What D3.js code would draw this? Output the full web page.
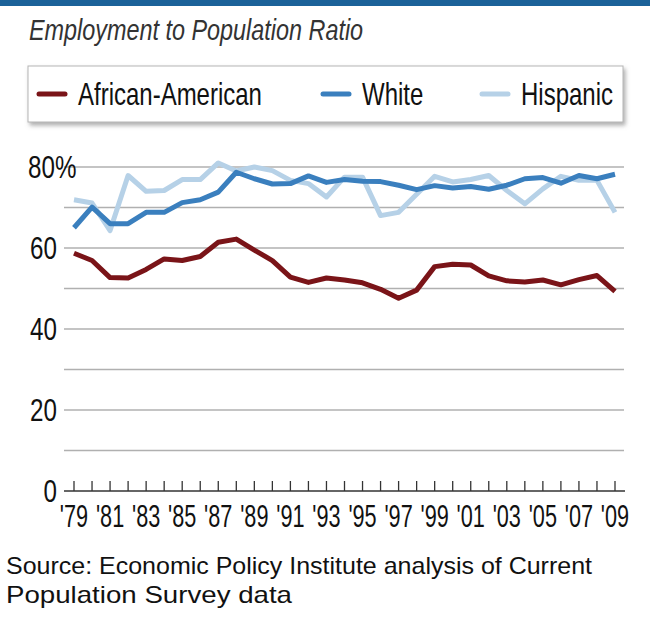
<!DOCTYPE html>
<html lang="en">

<head>
   <meta charset="utf-8">
   <script src="https://d3js.org/d3.v7.min.js"></script>
   <title>Employment to Population Ratio</title>
   <style>
      body { margin: 0; background: #fff; }
      svg { display: block; }
   </style>
</head>

<body>

   <div id="chart"></div>

   <script type="text/javascript">

      // Data
      var years = d3.range(1979, 2010);
      var africanAmerican = [58.7, 56.9, 52.7, 52.6, 54.7, 57.3, 56.9, 57.9, 61.4, 62.2,
         59.5, 56.9, 52.8, 51.5, 52.6, 52.1, 51.4, 49.8, 47.6, 49.6,
         55.4, 56.0, 55.8, 53.1, 51.9, 51.6, 52.1, 50.9, 52.2, 53.2, 49.3];
      var white = [65.0, 70.1, 66.0, 66.0, 68.8, 68.8, 71.2, 71.9, 73.8, 78.7,
         77.1, 75.8, 75.9, 77.8, 76.2, 76.9, 76.5, 76.4, 75.5, 74.4,
         75.4, 74.8, 75.2, 74.5, 75.5, 77.1, 77.4, 76.0, 77.9, 77.1, 78.2];
      var hispanic = [71.9, 71.1, 64.3, 77.9, 74.0, 74.2, 76.9, 76.9, 81.0, 79.0,
         80.0, 79.1, 76.7, 75.9, 72.6, 77.5, 77.5, 68.0, 68.8, 73.3,
         77.7, 76.3, 76.9, 77.9, 74.2, 70.9, 74.6, 77.7, 76.7, 76.7, 68.8];
      var seriesNames = ["African-American", "White", "Hispanic"];
      var gridValues = [10, 20, 30, 40, 50, 60, 70, 80];
      var yLabelValues = [0, 20, 40, 60, 80];
      var xLabelYears = d3.range(1979, 2010, 2);

      var colors = ["#7a1418", "#3a7fbe", "#b6d1e7"];
      var font = "'Liberation Sans', Arial, sans-serif";

      // Squeeze text horizontally (the original uses a condensed face):
      // move x/y into a transform and scale the glyphs on x only
      function condense(sel, factor) {
         sel.each(function () {
            var t = d3.select(this);
            var tx = +t.attr("x") || 0, ty = +t.attr("y") || 0;
            t.attr("x", 0).attr("y", 0)
               .attr("transform", "translate(" + tx + "," + ty + ") scale(" + factor + ",1)");
         });
      }

      var width = 650, height = 618;
      var svg = d3.select("#chart")
         .append("svg")
         .attr("width", width)
         .attr("height", height);

      // Scales
      var x = d3.scaleLinear().domain([1979, 2009]).range([74, 615]);
      var y = d3.scaleLinear().domain([0, 80]).range([491, 167]);

      // Top band
      svg.append("rect")
         .attr("x", 0).attr("y", 0)
         .attr("width", width).attr("height", 6)
         .attr("fill", "#1b6299");

      // Title
      svg.append("text")
         .attr("x", 29)
         .attr("y", 40)
         .style("font-family", font)
         .style("font-style", "italic")
         .style("font-size", "30px")
         .attr("fill", "#333")
         .text("Employment to Population Ratio")
         .call(condense, 0.78);

      // Legend box with shadow
      var defs = svg.append("defs");
      defs.append("filter")
         .attr("id", "shadow")
         .attr("x", "-5%").attr("y", "-20%")
         .attr("width", "110%").attr("height", "150%")
         .append("feDropShadow")
         .attr("dx", 2).attr("dy", 3)
         .attr("stdDeviation", 2)
         .attr("flood-color", "#777")
         .attr("flood-opacity", 0.6);

      svg.append("rect")
         .attr("x", 28).attr("y", 66)
         .attr("width", 595).attr("height", 56)
         .attr("fill", "#fff")
         .attr("stroke", "#b5b5b5")
         .attr("stroke-width", 1)
         .attr("filter", "url(#shadow)");

      var legendX = [37, 321, 480];
      var legend = svg.selectAll(".legend")
         .data(seriesNames)
         .enter()
         .append("g")
         .attr("class", "legend")
         .attr("transform", (d, i) => "translate(" + legendX[i] + ",0)");

      legend.append("line")
         .attr("x1", 2).attr("x2", 28)
         .attr("y1", 94).attr("y2", 94)
         .attr("stroke", (d, i) => colors[i])
         .attr("stroke-width", 5)
         .attr("stroke-linecap", "round");

      legend.append("text")
         .attr("x", 41)
         .attr("y", 105)
         .style("font-family", font)
         .style("font-size", "32px")
         .attr("fill", "#111")
         .text(d => d)
         .call(condense, 0.75);

      // Grid lines
      svg.selectAll(".grid")
         .data(gridValues)
         .enter()
         .append("line")
         .attr("class", "grid")
         .attr("x1", 64).attr("x2", 624)
         .attr("y1", d => y(d)).attr("y2", d => y(d))
         .attr("stroke", "#b0b0b0")
         .attr("stroke-width", 1.5);

      // Baseline and year ticks
      svg.append("line")
         .attr("x1", 64).attr("x2", 625)
         .attr("y1", y(0)).attr("y2", y(0))
         .attr("stroke", "#333")
         .attr("stroke-width", 1.5);

      svg.selectAll(".tick")
         .data(years)
         .enter()
         .append("line")
         .attr("class", "tick")
         .attr("x1", d => x(d)).attr("x2", d => x(d))
         .attr("y1", y(0)).attr("y2", y(0) - 10)
         .attr("stroke", "#333")
         .attr("stroke-width", 1.3);

      // Y labels ("80%" starts at the left edge, the others end at x=57)
      svg.selectAll(".ylabel")
         .data(yLabelValues)
         .enter()
         .append("text")
         .attr("class", "ylabel")
         .attr("x", d => d === 80 ? 28 : 57)
         .attr("y", d => y(d))
         .attr("dy", "0.36em")
         .attr("text-anchor", d => d === 80 ? "start" : "end")
         .style("font-family", font)
         .style("font-size", "31px")
         .attr("fill", "#111")
         .text(d => d === 80 ? d + "%" : d)
         .call(condense, 0.78);

      // X labels
      svg.selectAll(".xlabel")
         .data(xLabelYears)
         .enter()
         .append("text")
         .attr("class", "xlabel")
         .attr("x", d => x(d))
         .attr("y", 527)
         .attr("text-anchor", "middle")
         .style("font-family", font)
         .style("font-size", "31px")
         .attr("fill", "#111")
         .text(d => "'" + String(d).slice(2))
         .call(condense, 0.7);

      // Lines (Hispanic drawn first, then White, then African-American)
      var line = d3.line()
         .x((d, i) => x(years[i]))
         .y(d => y(d));

      var seriesData = [africanAmerican, white, hispanic];
      svg.selectAll(".series")
         .data([2, 1, 0])
         .enter()
         .append("path")
         .attr("class", "series")
         .attr("d", i => line(seriesData[i]))
         .attr("fill", "none")
         .attr("stroke", i => colors[i])
         .attr("stroke-width", 5)
         .attr("stroke-linejoin", "round");

      // Source note
      var source = svg.append("text")
         .style("font-family", font)
         .style("font-size", "24px")
         .attr("fill", "#111");
      source.append("tspan").attr("x", 6).attr("y", 574)
         .attr("textLength", 586).attr("lengthAdjust", "spacingAndGlyphs")
         .text("Source: Economic Policy Institute analysis of Current");
      source.append("tspan").attr("x", 6).attr("y", 603)
         .attr("textLength", 286).attr("lengthAdjust", "spacingAndGlyphs")
         .text("Population Survey data");

   </script>
</body>

</html>
